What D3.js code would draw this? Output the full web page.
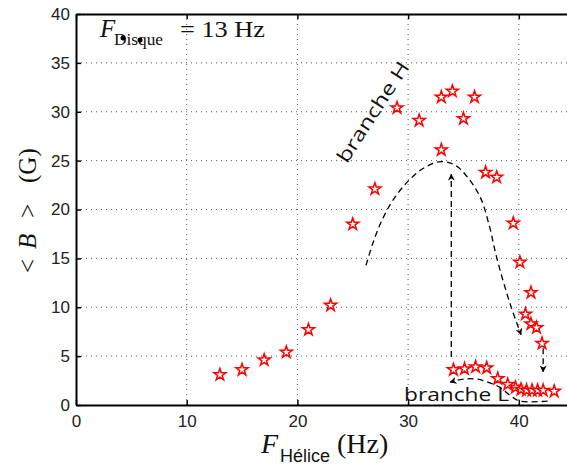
<!DOCTYPE html>
<html><head><meta charset="utf-8">
<script src="https://cdn.jsdelivr.net/npm/d3@7"></script>
<style>body{margin:0;background:#fff;} svg{display:block;}</style>
</head><body>
<svg id="c" width="567" height="468"></svg>
<script>
// Data
const xTicks = [0, 10, 20, 30, 40];
const yTicks = [0, 5, 10, 15, 20, 25, 30, 35, 40];
const fHelice = [13, 15, 17, 19, 21, 23, 25, 27, 29, 31, 33, 33, 34, 35, 36, 37, 38, 39.5, 40.1, 40.6, 41.1, 41.1, 41.6, 42.1,
                 34.1, 35.1, 36.1, 37.1, 38.1, 39.0, 39.7, 40.2, 40.7, 41.2, 41.7, 42.2, 43.2];
const bMean = [3.1, 3.6, 4.6, 5.4, 7.7, 10.2, 18.5, 22.1, 30.4, 29.1, 31.5, 26.1, 32.1, 29.3, 31.5, 23.8, 23.3, 18.6, 14.6, 9.3, 11.5, 8.3, 7.9, 6.3,
               3.6, 3.7, 3.9, 3.8, 2.7, 2.1, 1.8, 1.6, 1.5, 1.5, 1.5, 1.5, 1.4];
const branchHx = [26.2, 26.8, 27.6, 28.6, 30.0, 31.5, 33.0, 34.3, 35.3, 36.5, 37.3, 38.0, 39.2, 40.2];
const branchHy = [14.3, 16.5, 18.8, 20.9, 22.9, 24.3, 24.9, 24.5, 23.4, 21.3, 18.5, 15.1, 10.4, 7.2];
const branchLx = [42.6, 40.1, 39.2, 38.3, 37.2, 36.2, 35.0, 33.8];
const branchLy = [0.4, 0.4, 1.0, 1.8, 2.35, 2.65, 2.65, 2.35];
const jumpUpX = [33.9, 33.9], jumpUpY = [4.9, 23.6];
const jumpDownX = [42.2, 42.2], jumpDownY = [5.8, 3.4];

const svg = d3.select("#c");
const L = 76, T = 14, B = 405;
const x = d3.scaleLinear().domain([0, 45]).range([L, L + 45 * 11.07]);
const y = d3.scaleLinear().domain([0, 40]).range([B, T]);

svg.append("defs").append("marker").attr("id", "ah").attr("viewBox", "0 0 10 10")
  .attr("refX", 9).attr("refY", 5).attr("markerWidth", 7).attr("markerHeight", 7)
  .attr("markerUnits", "userSpaceOnUse").attr("orient", "auto")
  .append("path").attr("d", "M0,0 L10,5 L0,10 L3,5 Z").attr("fill", "#000");

// grid
const g = svg.append("g");
g.selectAll(".gx").data(xTicks.filter(d => d > 0)).enter().append("line")
  .attr("x1", d => x(d)).attr("x2", d => x(d)).attr("y1", B).attr("y2", T)
  .attr("stroke", "#555").attr("stroke-width", 1).attr("stroke-dasharray", "1,4");
g.selectAll(".gy").data(yTicks.filter(d => d > 0 && d < 40)).enter().append("line")
  .attr("x1", L).attr("x2", 567).attr("y1", d => y(d)).attr("y2", d => y(d))
  .attr("stroke", "#555").attr("stroke-width", 1).attr("stroke-dasharray", "1,4");

// axes
const xAxis = d3.axisBottom(x).tickValues(xTicks).tickSize(-5).tickPadding(10).tickSizeOuter(0);
const yAxis = d3.axisLeft(y).tickValues(yTicks).tickSize(-5).tickPadding(6).tickSizeOuter(0);
const gx = svg.append("g").attr("transform", `translate(0,${B})`).call(xAxis);
const gy = svg.append("g").attr("transform", `translate(${L},0)`).call(yAxis);
const gxt = svg.append("g").attr("transform", `translate(0,${T})`).call(d3.axisTop(x).tickValues(xTicks).tickSize(-5).tickFormat("").tickSizeOuter(0));
[gx, gy, gxt].forEach(a => {
  a.select(".domain").attr("stroke", "#000").attr("stroke-width", 2);
  a.selectAll(".tick line").attr("stroke", "#000").attr("stroke-width", 1.5);
  a.selectAll("text").attr("font-family", "Liberation Sans, Arial, sans-serif").attr("font-size", 17).attr("fill", "#222");
});
gx.selectAll("text").attr("dy", "0.71em");

// curves
const line = d3.line().x(d => x(d[0])).y(d => y(d[1]));
const dashed = (xs, ys, curve) => svg.append("path")
  .attr("d", line.curve(curve)(xs.map((v, i) => [v, ys[i]])))
  .attr("fill", "none").attr("stroke", "#000").attr("stroke-width", 1.3)
  .attr("stroke-dasharray", "6,4").attr("marker-end", "url(#ah)");
dashed(branchHx, branchHy, d3.curveCatmullRom);
dashed(branchLx, branchLy, d3.curveCatmullRom);
dashed(jumpUpX, jumpUpY, d3.curveLinear);
dashed(jumpDownX, jumpDownY, d3.curveLinear);

// stars
const star = d3.symbol().type(d3.symbolStar).size(45);
svg.append("g").selectAll("path").data(fHelice.map((v, i) => [v, bMean[i]])).enter().append("path")
  .attr("d", star).attr("transform", d => `translate(${x(d[0])},${y(d[1])})`)
  .attr("fill", "#fff").attr("stroke", "#ff0000").attr("stroke-width", 1.5);

// annotations
svg.append("text").attr("x", 404).attr("y", 401).attr("font-family", "Open Sans, sans-serif")
  .attr("font-size", 19).attr("textLength", 105).attr("lengthAdjust", "spacingAndGlyphs")
  .attr("fill", "#111").text("branche L");
svg.append("text").attr("transform", "translate(373,112) rotate(-57)").attr("text-anchor", "middle")
  .attr("dy", "0.35em").attr("font-family", "Open Sans, sans-serif").attr("font-size", 19)
  .attr("textLength", 116).attr("lengthAdjust", "spacingAndGlyphs").attr("fill", "#111").text("branche H");

// F_Disque label
const serif = "Liberation Serif, Times New Roman, serif";
const t1 = svg.append("text").attr("y", 37).attr("font-family", serif).attr("fill", "#111");
t1.append("tspan").attr("x", 100).attr("font-style", "italic").attr("font-size", 25).text("F");
t1.append("tspan").attr("x", 114).attr("y", 45).attr("font-size", 16).attr("textLength", 49).attr("lengthAdjust", "spacingAndGlyphs").text("Disque");
t1.append("tspan").attr("x", 180).attr("y", 37).attr("font-size", 24).attr("textLength", 85).attr("lengthAdjust", "spacingAndGlyphs").text("= 13 Hz");
svg.append("circle").attr("cx", 123).attr("cy", 38).attr("r", 2.5).attr("fill", "#000");
svg.append("circle").attr("cx", 140).attr("cy", 40).attr("r", 2.5).attr("fill", "#000");

// axis titles
const xt = svg.append("text").attr("y", 453).attr("fill", "#111").attr("font-family", serif);
xt.append("tspan").attr("x", 261).attr("font-style", "italic").attr("font-size", 28).text("F");
xt.append("tspan").attr("x", 280).attr("y", 462).attr("font-family", "Liberation Sans, Arial, sans-serif").attr("font-size", 18).text("Hélice");
xt.append("tspan").attr("x", 337).attr("y", 453).attr("font-size", 28).text("(Hz)");

const yt = svg.append("text").attr("transform", "translate(36,0) rotate(-90)")
  .attr("fill", "#111").attr("font-family", serif).attr("font-size", 25);
yt.append("tspan").attr("x", -273).text("<");
yt.append("tspan").attr("x", -249).attr("font-style", "italic").text("B");
yt.append("tspan").attr("x", -218).text(">");
yt.append("tspan").attr("x", -183).text("(G)");
</script>
</body></html>
